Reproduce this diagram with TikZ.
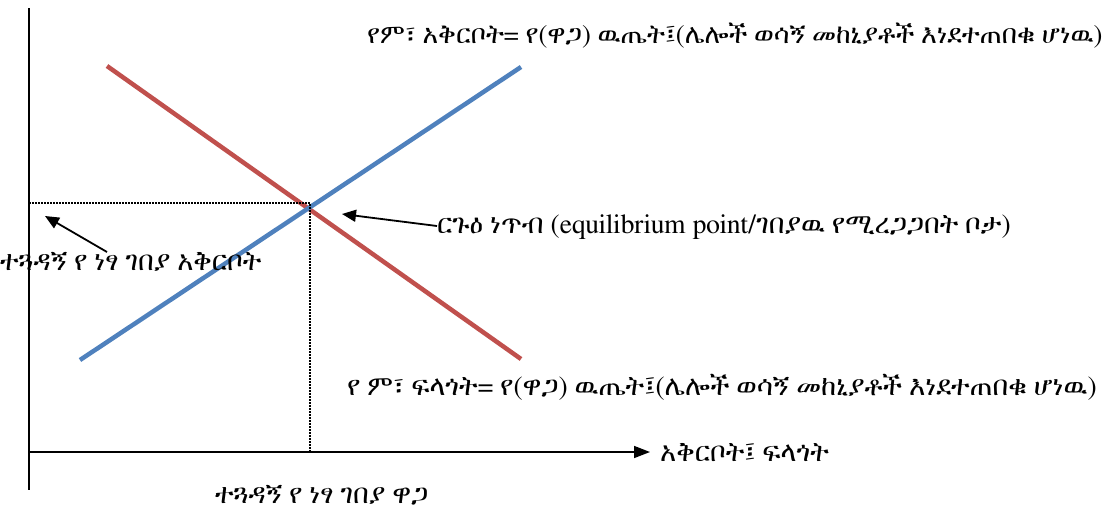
\documentclass[tikz,border=0pt]{standalone}
\usepackage{fontspec}
\newfontfamily\eth{FreeSerif}
\setmainfont{Liberation Sans}
\usetikzlibrary{arrows.meta}
\definecolor{dem}{RGB}{192,80,77}
\definecolor{sup}{RGB}{79,129,189}
\tikzset{
  axis/.style={line width=1.6pt,black},
  curve/.style={line width=4.5pt},
  guide/.style={line width=1.6pt,dash pattern=on 1.6pt off 1.4pt},
  pointer/.style={line width=1.8pt,-{Triangle[length=14pt,width=12pt]}},
  lbl/.style={font=\eth\fontsize{27.5}{29}\selectfont,inner sep=0pt,anchor=base west},
  toplbl/.style={lbl,font=\eth\fontsize{26.6}{28}\selectfont},
}
\begin{document}
\begin{tikzpicture}[x=1pt,y=-1pt]
\useasboundingbox (0,0) rectangle (1113,517);
% axes
\coordinate (ytop) at (29,8);
\coordinate (ybot) at (29,490);
\coordinate (xl) at (29,452);
\coordinate (xr) at (650,452);
\draw[axis] (ytop) -- (ybot);
\draw[axis,-{Triangle[length=16pt,width=12pt]}] (xl) -- (xr);
% curves
\coordinate (d1) at (107,66); \coordinate (d2) at (521,359);
\coordinate (s1) at (80,360); \coordinate (s2) at (521,67);
\draw[curve,dem] (d1) -- (d2);
\draw[curve,sup] (s1) -- (s2);
% guides
\coordinate (eq) at (310,203);
\coordinate (gy) at (29,203);
\coordinate (gx) at (310,452);
\draw[guide] (gy) -- (eq) -- (gx);
% labels
\node[toplbl] (supl) at (367,43) {የም፣ አቅርቦት= የ(ዋጋ) ዉጤት፤(ሌሎች ወሳኝ መከኒያቶች እነደተጠበቁ ሆነዉ)};
\node[lbl] (deml) at (347,395) {የ ም፣ ፍላጎት= የ(ዋጋ) ዉጤት፤(ሌሎች ወሳኝ መከኒያቶች እነደተጠበቁ ሆነዉ)};
\node[lbl] (eql) at (437,233) {ርጉዕ ነጥብ (equilibrium point/ገበያዉ የሚረጋጋበት ቦታ)};
\node[lbl] (ql) at (0,270) {ተጓዳኝ የ ነፃ ገበያ  አቅርቦት};
\node[lbl] (axl) at (660,461) {አቅርቦት፤ ፍላጎት};
\node[lbl] (pl) at (215,503) {ተጓዳኝ የ ነፃ ገበያ  ዋጋ};
% pointers
\coordinate (qt) at (107,252);
\coordinate (qh) at (45,216);
\draw[pointer] (qt) -- (qh);
\coordinate (et) at (437,226);
\coordinate (eh) at (342,214);
\draw[pointer] (et) -- (eh);
\end{tikzpicture}
\end{document}
